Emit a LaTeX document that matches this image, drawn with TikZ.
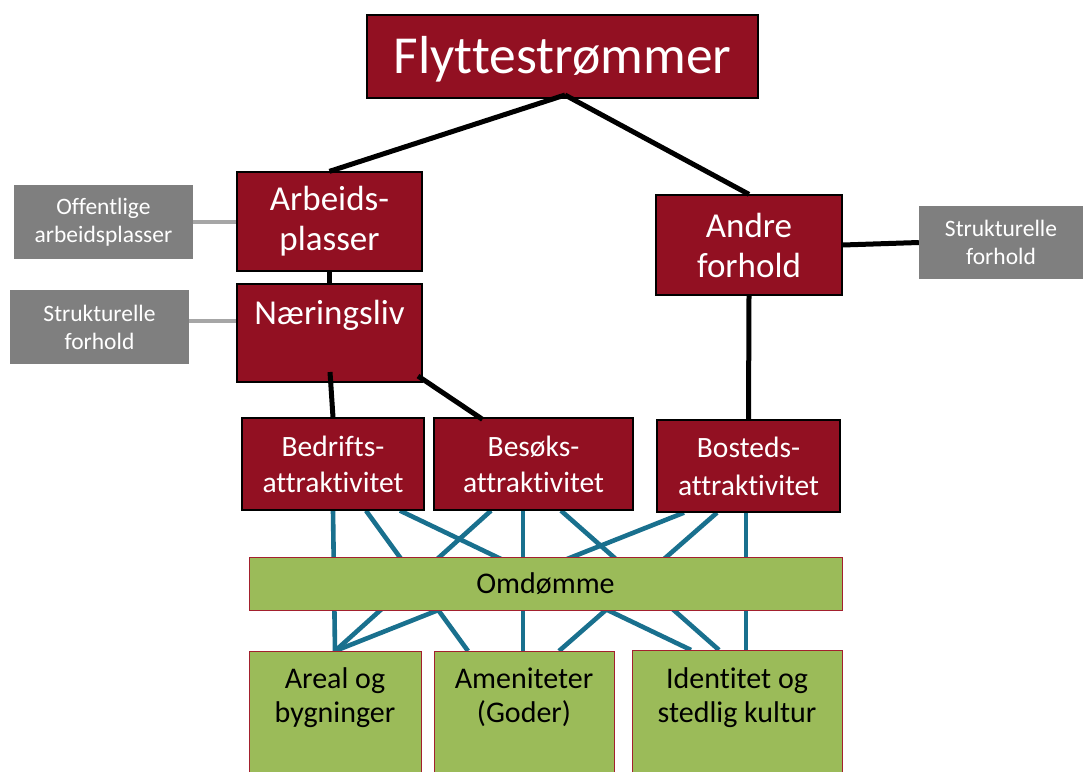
\documentclass[tikz,border=0pt]{standalone}
\usepackage{fontspec}
\setmainfont{Carlito}[Ligatures={NoCommon}]
\usetikzlibrary{backgrounds,calc}
\definecolor{dred}{HTML}{921022}
\definecolor{lgreen}{HTML}{9BBB59}
\definecolor{gbord}{HTML}{A3202E}
\definecolor{tealc}{HTML}{19708E}
\definecolor{grayb}{HTML}{7F7F7F}
\definecolor{lgrayl}{HTML}{A6A6A6}
\tikzset{
  redbox/.style={draw=black, line width=1.3pt, fill=dred, inner sep=0pt},
  greenbox/.style={draw=gbord, line width=1pt, fill=lgreen, inner sep=0pt},
  graybox/.style={fill=grayb, inner sep=0pt},
  wtext/.style={text=white, align=center, inner sep=0pt},
  btext/.style={text=black, align=center, inner sep=0pt},
  blackline/.style={draw=black, line width=5pt},
  tealline/.style={draw=tealc, line width=4.6pt},
  grayline/.style={draw=lgrayl, line width=4.5pt},
}
\begin{document}
\begin{tikzpicture}[x=1pt,y=-1pt]
\useasboundingbox (0,0) rectangle (1083,771);
\clip (0,0) rectangle (1083,771);
% red boxes
\node[redbox, minimum width=391pt, minimum height=83pt] (flytt) at (562.5,56.5) {};
\node[wtext, font=\fontsize{53.5}{60}\selectfont] at (562.5,59.5) {Flyttestrømmer};
\node[redbox, minimum width=185pt, minimum height=99pt] (arb) at (329.5,221.5) {};
\node[wtext, font=\fontsize{35}{40}\selectfont] at (arb.center) {Arbeids-\\plasser};
\node[redbox, minimum width=185pt, minimum height=98pt] (naer) at (329.5,333) {};
\node[wtext, font=\fontsize{35}{40}\selectfont] at (329.5,315) {Næringsliv};
\node[redbox, minimum width=186pt, minimum height=100pt] (andre) at (749,245) {};
\node[wtext, font=\fontsize{35}{40}\selectfont] at (andre.center) {Andre\\forhold};
\node[redbox, minimum width=182pt, minimum height=92pt] (bedr) at (333,464) {};
\node[wtext, font=\fontsize{29.5}{36}\selectfont] at (bedr.center) {Bedrifts-\\attraktivitet};
\node[redbox, minimum width=199pt, minimum height=92pt] (besok) at (533.5,464) {};
\node[wtext, font=\fontsize{29.5}{36}\selectfont] at (besok.center) {Besøks-\\attraktivitet};
\node[redbox, minimum width=183pt, minimum height=92pt] (bost) at (748.5,466) {};
\node[wtext, font=\fontsize{29.5}{38}\selectfont] at (bost.center) {Bosteds-\\attraktivitet};
% gray boxes
\node[graybox, minimum width=179pt, minimum height=74pt] (offl) at (103.5,222) {};
\node[wtext, font=\fontsize{23.5}{28}\selectfont] at (offl.center) {Offentlige\\arbeidsplasser};
\node[graybox, minimum width=179pt, minimum height=74pt] (strl) at (99.5,327) {};
\node[wtext, font=\fontsize{23.5}{28}\selectfont] at (strl.center) {Strukturelle\\forhold};
\node[graybox, minimum width=164pt, minimum height=73pt] (strr) at (1001,242.5) {};
\node[wtext, font=\fontsize{23.5}{28}\selectfont] at (strr.center) {Strukturelle\\forhold};
% green boxes
\node[greenbox, minimum width=593pt, minimum height=53pt] (omd) at (545.5,583.5) {};
\node[btext, font=\fontsize{30}{34}\selectfont] at (omd.center) {Omdømme};
\node[greenbox, minimum width=172pt, minimum height=140pt, anchor=north] (areal) at (335,651) {};
\node[btext, font=\fontsize{30}{34}\selectfont] at (335,698) {Areal og\\bygninger};
\node[greenbox, minimum width=180pt, minimum height=140pt, anchor=north] (amen) at (524,651) {};
\node[btext, font=\fontsize{30}{34}\selectfont] at (524,697) {Ameniteter\\(Goder)};
\node[greenbox, minimum width=210pt, minimum height=140pt, anchor=north] (ident) at (737,650) {};
\node[btext, font=\fontsize{30}{34}\selectfont] at (737,697.5) {Identitet og\\stedlig kultur};
% teal connectors behind
\begin{scope}[on background layer]
\fill[white] (0,0) rectangle (1083,771);
\draw[tealline] (bedr.south) -- (areal.north);
\draw[tealline] ([xshift=33pt]bedr.south) -- ([xshift=-56pt]amen.north);
\draw[tealline] ([xshift=67pt]bedr.south) -- ([xshift=-46pt]ident.north);
\draw[tealline] ([xshift=-42.5pt]besok.south) -- (areal.north);
\draw[tealline] ([xshift=-10.5pt]besok.south) -- ([xshift=-1pt]amen.north);
\draw[tealline] ([xshift=27.5pt]besok.south) -- ([xshift=-18pt]ident.north);
\draw[tealline] ([xshift=-64.5pt]bost.south) -- (areal.north);
\draw[tealline] ([xshift=-31.5pt]bost.south) -- ([xshift=35pt]amen.north);
\draw[tealline] ([xshift=-2.5pt]bost.south) -- ([xshift=9pt]ident.north);
\end{scope}
% black connectors
\coordinate (ftop) at (565,95);
\coordinate (nb1) at (330,372);
\coordinate (nb2) at (418,376);
\draw[blackline] (ftop) -- (arb.north);
\draw[blackline] (ftop) -- (andre.north);
\draw[blackline] (arb.south) -- (naer.north);
\draw[blackline] (nb1) -- (bedr.north);
\draw[blackline] (nb2) -- ([xshift=-51pt,yshift=-2pt]besok.north);
\draw[blackline] (andre.south) -- (bost.north);
\draw[blackline] (andre.east) -- (strr.west);
% gray connectors
\draw[grayline] (offl.east) -- (offl.east -| arb.west);
\draw[grayline] ([yshift=6pt]strl.east) -- ([yshift=6pt]strl.east -| naer.west);
\end{tikzpicture}
\end{document}
